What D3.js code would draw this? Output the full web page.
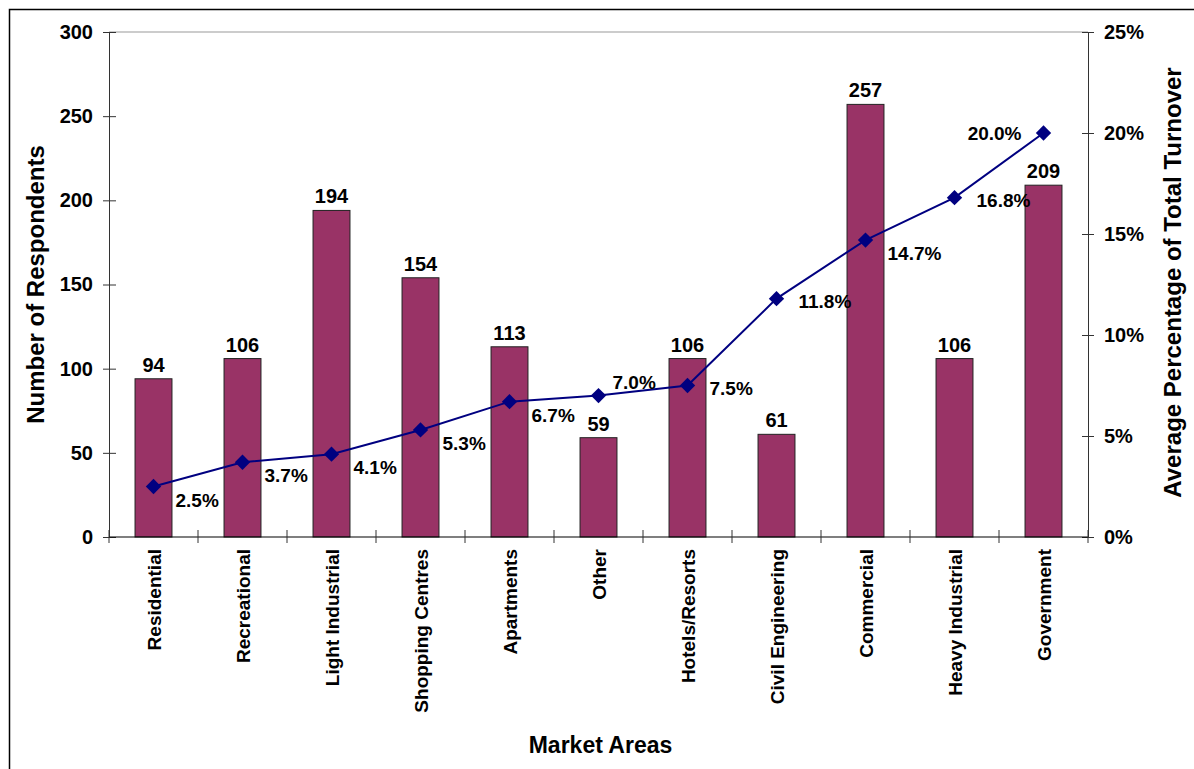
<!DOCTYPE html>
<html>
<head>
<meta charset="utf-8">
<script src="https://cdn.jsdelivr.net/npm/d3@7"></script>
<style>
  body { margin: 0; background: #fff; }
  text { font-family: "Liberation Sans", Arial, sans-serif; font-weight: bold; fill: #000; }
</style>
</head>
<body>
<div id="chart"></div>
<script>
// Data
const categories = ["Residential", "Recreational", "Light Industrial", "Shopping Centres", "Apartments",
  "Other", "Hotels/Resorts", "Civil Engineering", "Commercial", "Heavy Industrial", "Government"];
const respondents = [94, 106, 194, 154, 113, 59, 106, 61, 257, 106, 209];
const turnover = [2.5, 3.7, 4.1, 5.3, 6.7, 7.0, 7.5, 11.8, 14.7, 16.8, 20.0];
const leftTicks = [0, 50, 100, 150, 200, 250, 300];
const rightTicks = [0, 5, 10, 15, 20, 25];
// where the percentage label sits relative to its marker
const labelSide = ["br", "br", "br", "br", "br", "ar", "r", "r", "br", "r", "l"];

const width = 1194, height = 769;
const margin = { left: 109, right: 106, top: 32, bottom: 232 };
const innerW = width - margin.left - margin.right;
const innerH = height - margin.top - margin.bottom;

const svg = d3.select("#chart").append("svg")
  .attr("width", width).attr("height", height);

// outer chart border
svg.append("rect")
  .attr("x", 9.5).attr("y", 9.5)
  .attr("width", width).attr("height", height)
  .attr("fill", "none").attr("stroke", "#000").attr("stroke-width", 1.5);

const g = svg.append("g").attr("transform", `translate(${margin.left},${margin.top})`);

const x = d3.scaleBand().domain(categories).range([0, innerW]).paddingInner(0.585).paddingOuter(0.2925);
const y = d3.scaleLinear().domain([0, 300]).range([innerH, 0]);
const y2 = d3.scaleLinear().domain([0, 25]).range([innerH, 0]);

// top gridline
g.append("line")
  .attr("x1", 0).attr("x2", innerW).attr("y1", y(300)).attr("y2", y(300))
  .attr("stroke", "#999").attr("stroke-width", 1);

// bars
g.selectAll(".bar")
  .data(respondents)
  .enter().append("rect")
  .attr("x", (d, i) => x(categories[i]))
  .attr("y", d => y(d))
  .attr("width", x.bandwidth())
  .attr("height", d => innerH - y(d))
  .attr("fill", "#993366")
  .attr("stroke", "#222").attr("stroke-width", 1);

g.selectAll(".barlabel")
  .data(respondents)
  .enter().append("text")
  .attr("x", (d, i) => x(categories[i]) + x.bandwidth() / 2)
  .attr("y", d => y(d) - 7)
  .attr("text-anchor", "middle")
  .style("font-size", "20px")
  .text(d => d);

// left axis
const leftAxis = g.append("g")
  .call(d3.axisLeft(y).tickValues(leftTicks).tickSize(6).tickPadding(10));
leftAxis.select(".domain").attr("stroke", "#333");
leftAxis.selectAll(".tick line").attr("x2", -6).attr("x1", 7).attr("stroke", "#333");
leftAxis.selectAll(".tick text").style("font-size", "20px").attr("font-family", null);

// right axis
const rightAxis = g.append("g").attr("transform", `translate(${innerW},0)`)
  .call(d3.axisRight(y2).tickValues(rightTicks).tickFormat(d => d + "%").tickSize(6).tickPadding(10));
rightAxis.select(".domain").attr("stroke", "#333");
rightAxis.selectAll(".tick line").attr("x1", -6).attr("x2", 6).attr("stroke", "#333");
rightAxis.selectAll(".tick text").style("font-size", "20px").attr("font-family", null);

// bottom axis with boundary ticks
g.append("line")
  .attr("x1", 0).attr("x2", innerW).attr("y1", innerH).attr("y2", innerH)
  .attr("stroke", "#000").attr("stroke-width", 1.2);
const step = x.step();
g.selectAll(".xtick")
  .data(d3.range(categories.length + 1))
  .enter().append("line")
  .attr("x1", i => i * step).attr("x2", i => i * step)
  .attr("y1", innerH - 7).attr("y2", innerH + 6)
  .attr("stroke", "#333");

g.selectAll(".catlabel")
  .data(categories)
  .enter().append("text")
  .attr("transform", d => `translate(${x(d) + x.bandwidth() / 2 + 7},${innerH + 12}) rotate(-90)`)
  .attr("text-anchor", "end")
  .style("font-size", "19px")
  .text(d => d);

// turnover line
const line = d3.line()
  .x((d, i) => x(categories[i]) + x.bandwidth() / 2)
  .y(d => y2(d));

g.append("path")
  .datum(turnover)
  .attr("d", line)
  .attr("fill", "none")
  .attr("stroke", "#000080").attr("stroke-width", 2);

g.selectAll(".marker")
  .data(turnover)
  .enter().append("path")
  .attr("d", d3.symbol().type(d3.symbolDiamond2).size(150))
  .attr("transform", (d, i) => `translate(${x(categories[i]) + x.bandwidth() / 2},${y2(d)})`)
  .attr("fill", "#000080");

const offsets = {
  br: { dx: 22, dy: 20, anchor: "start" },
  ar: { dx: 14, dy: -7, anchor: "start" },
  r: { dx: 22, dy: 9, anchor: "start" },
  l: { dx: -22, dy: 7, anchor: "end" }
};
g.selectAll(".pctlabel")
  .data(turnover)
  .enter().append("text")
  .attr("x", (d, i) => x(categories[i]) + x.bandwidth() / 2 + offsets[labelSide[i]].dx)
  .attr("y", (d, i) => y2(d) + offsets[labelSide[i]].dy)
  .attr("text-anchor", (d, i) => offsets[labelSide[i]].anchor)
  .style("font-size", "19px")
  .text(d => d.toFixed(1) + "%");

// axis titles
svg.append("text")
  .attr("transform", `translate(44,${margin.top + innerH / 2}) rotate(-90)`)
  .attr("text-anchor", "middle")
  .style("font-size", "24px")
  .text("Number of Respondents");

svg.append("text")
  .attr("transform", `translate(1181,${margin.top + innerH / 2 - 2}) rotate(-90)`)
  .attr("text-anchor", "middle")
  .style("font-size", "24px")
  .text("Average Percentage of Total Turnover");

svg.append("text")
  .attr("x", margin.left + innerW / 2 + 2)
  .attr("y", 753)
  .attr("text-anchor", "middle")
  .style("font-size", "23px")
  .text("Market Areas");
</script>
</body>
</html>
